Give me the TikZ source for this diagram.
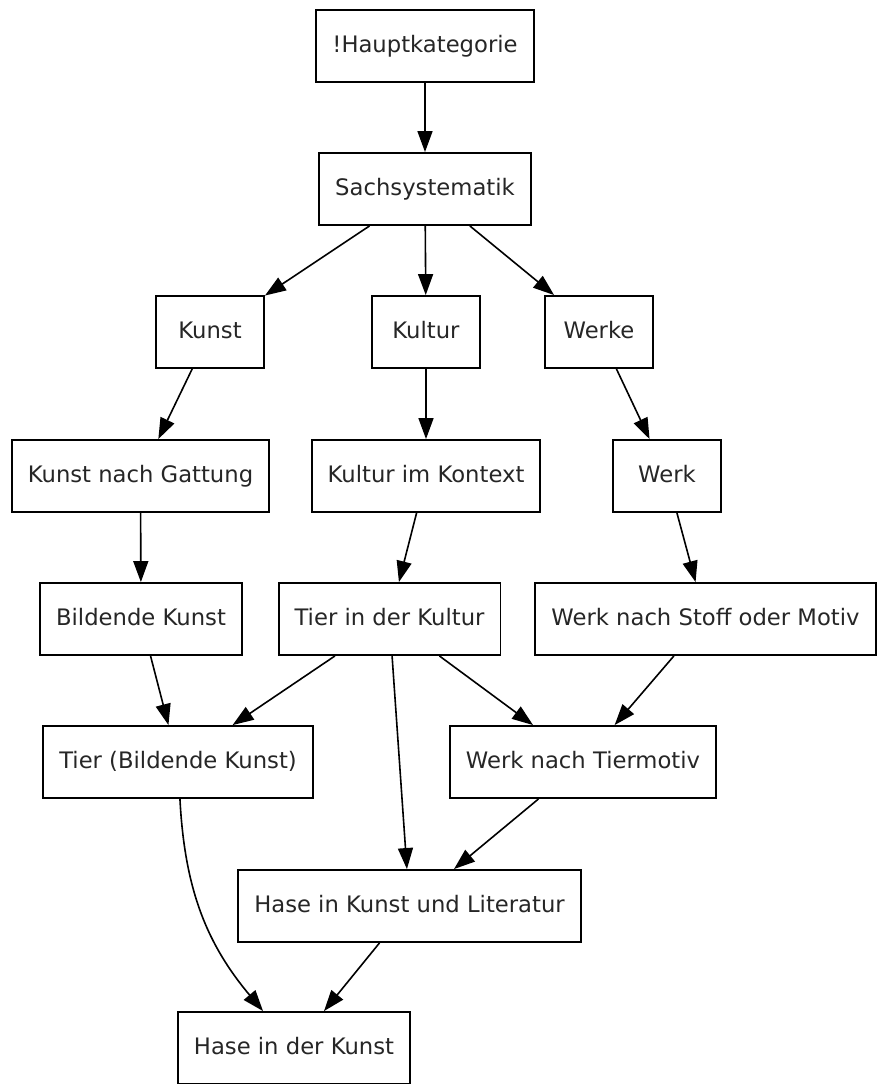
\documentclass[tikz,border=0pt]{standalone}
\usepackage{fontspec}
\setmainfont{DejaVu Sans}
\usetikzlibrary{arrows.meta}

\tikzset{
    kat/.style={draw, line width=1.9pt, rectangle, minimum width=108pt, minimum height=72pt,
        inner xsep=16pt, text height=17pt, text depth=4pt, text=black!85,
        font=\fontsize{22.7}{27}\selectfont},
    pfeil/.style={line width=1.6pt, -{Triangle[length=21pt, width=15pt]}},
}

\begin{document}
\begin{tikzpicture}[x=1pt, y=-1pt]
    \useasboundingbox (0,0) rectangle (876,1084);

    \node[kat] (hk) at (425, 46) {!Hauptkategorie};
    \node[kat] (sach) at (425, 189) {Sachsystematik};

    \node[kat] (kunst) at (210, 332) {Kunst};
    \node[kat] (kultur) at (426, 332) {Kultur};
    \node[kat] (werke) at (599, 332) {Werke};

    \node[kat] (kng) at (140.5, 476) {Kunst nach Gattung};
    \node[kat] (kik) at (426, 476) {Kultur im Kontext};
    \node[kat] (werk) at (667, 476) {Werk};

    \node[kat] (bk) at (141, 619) {Bildende Kunst};
    \node[kat] (tik) at (389.5, 619) {Tier in der Kultur};
    \node[kat] (wsm) at (705.5, 619) {Werk nach Stoff oder Motiv};

    \node[kat] (tbk) at (178, 762) {Tier (Bildende Kunst)};
    \node[kat] (wtm) at (583, 762) {Werk nach Tiermotiv};

    \node[kat] (hkl) at (409.5, 906) {Hase in Kunst und Literatur};
    \node[kat] (hdk) at (294, 1048) {Hase in der Kunst};

    % oben
    \draw[pfeil] (hk) -- (sach);
    \draw[pfeil] (sach) -- (kunst);
    \draw[pfeil] (sach) -- (kultur);
    \draw[pfeil] (sach) -- (werke);

    % drei Spalten
    \draw[pfeil] (kunst) -- (kng);
    \draw[pfeil] (kultur) -- (kik);
    \draw[pfeil] (werke) -- (werk);
    \draw[pfeil] (kng) -- (bk);
    \draw[pfeil] (kik) -- (tik);
    \draw[pfeil] (werk) -- (wsm);

    % Tier
    \draw[pfeil] (bk) -- (tbk);
    \draw[pfeil] (tik) -- (tbk);
    \draw[pfeil] (tik) -- (wtm);
    \draw[pfeil] (wsm) -- (wtm);

    % Hase
    \draw[pfeil] (tik) -- (hkl);
    \draw[pfeil] (wtm) -- (hkl);
    \draw[pfeil] (hkl) -- (hdk);
    \draw[pfeil] (tbk) to[out=-87, in=130] (hdk);
\end{tikzpicture}
\end{document}
